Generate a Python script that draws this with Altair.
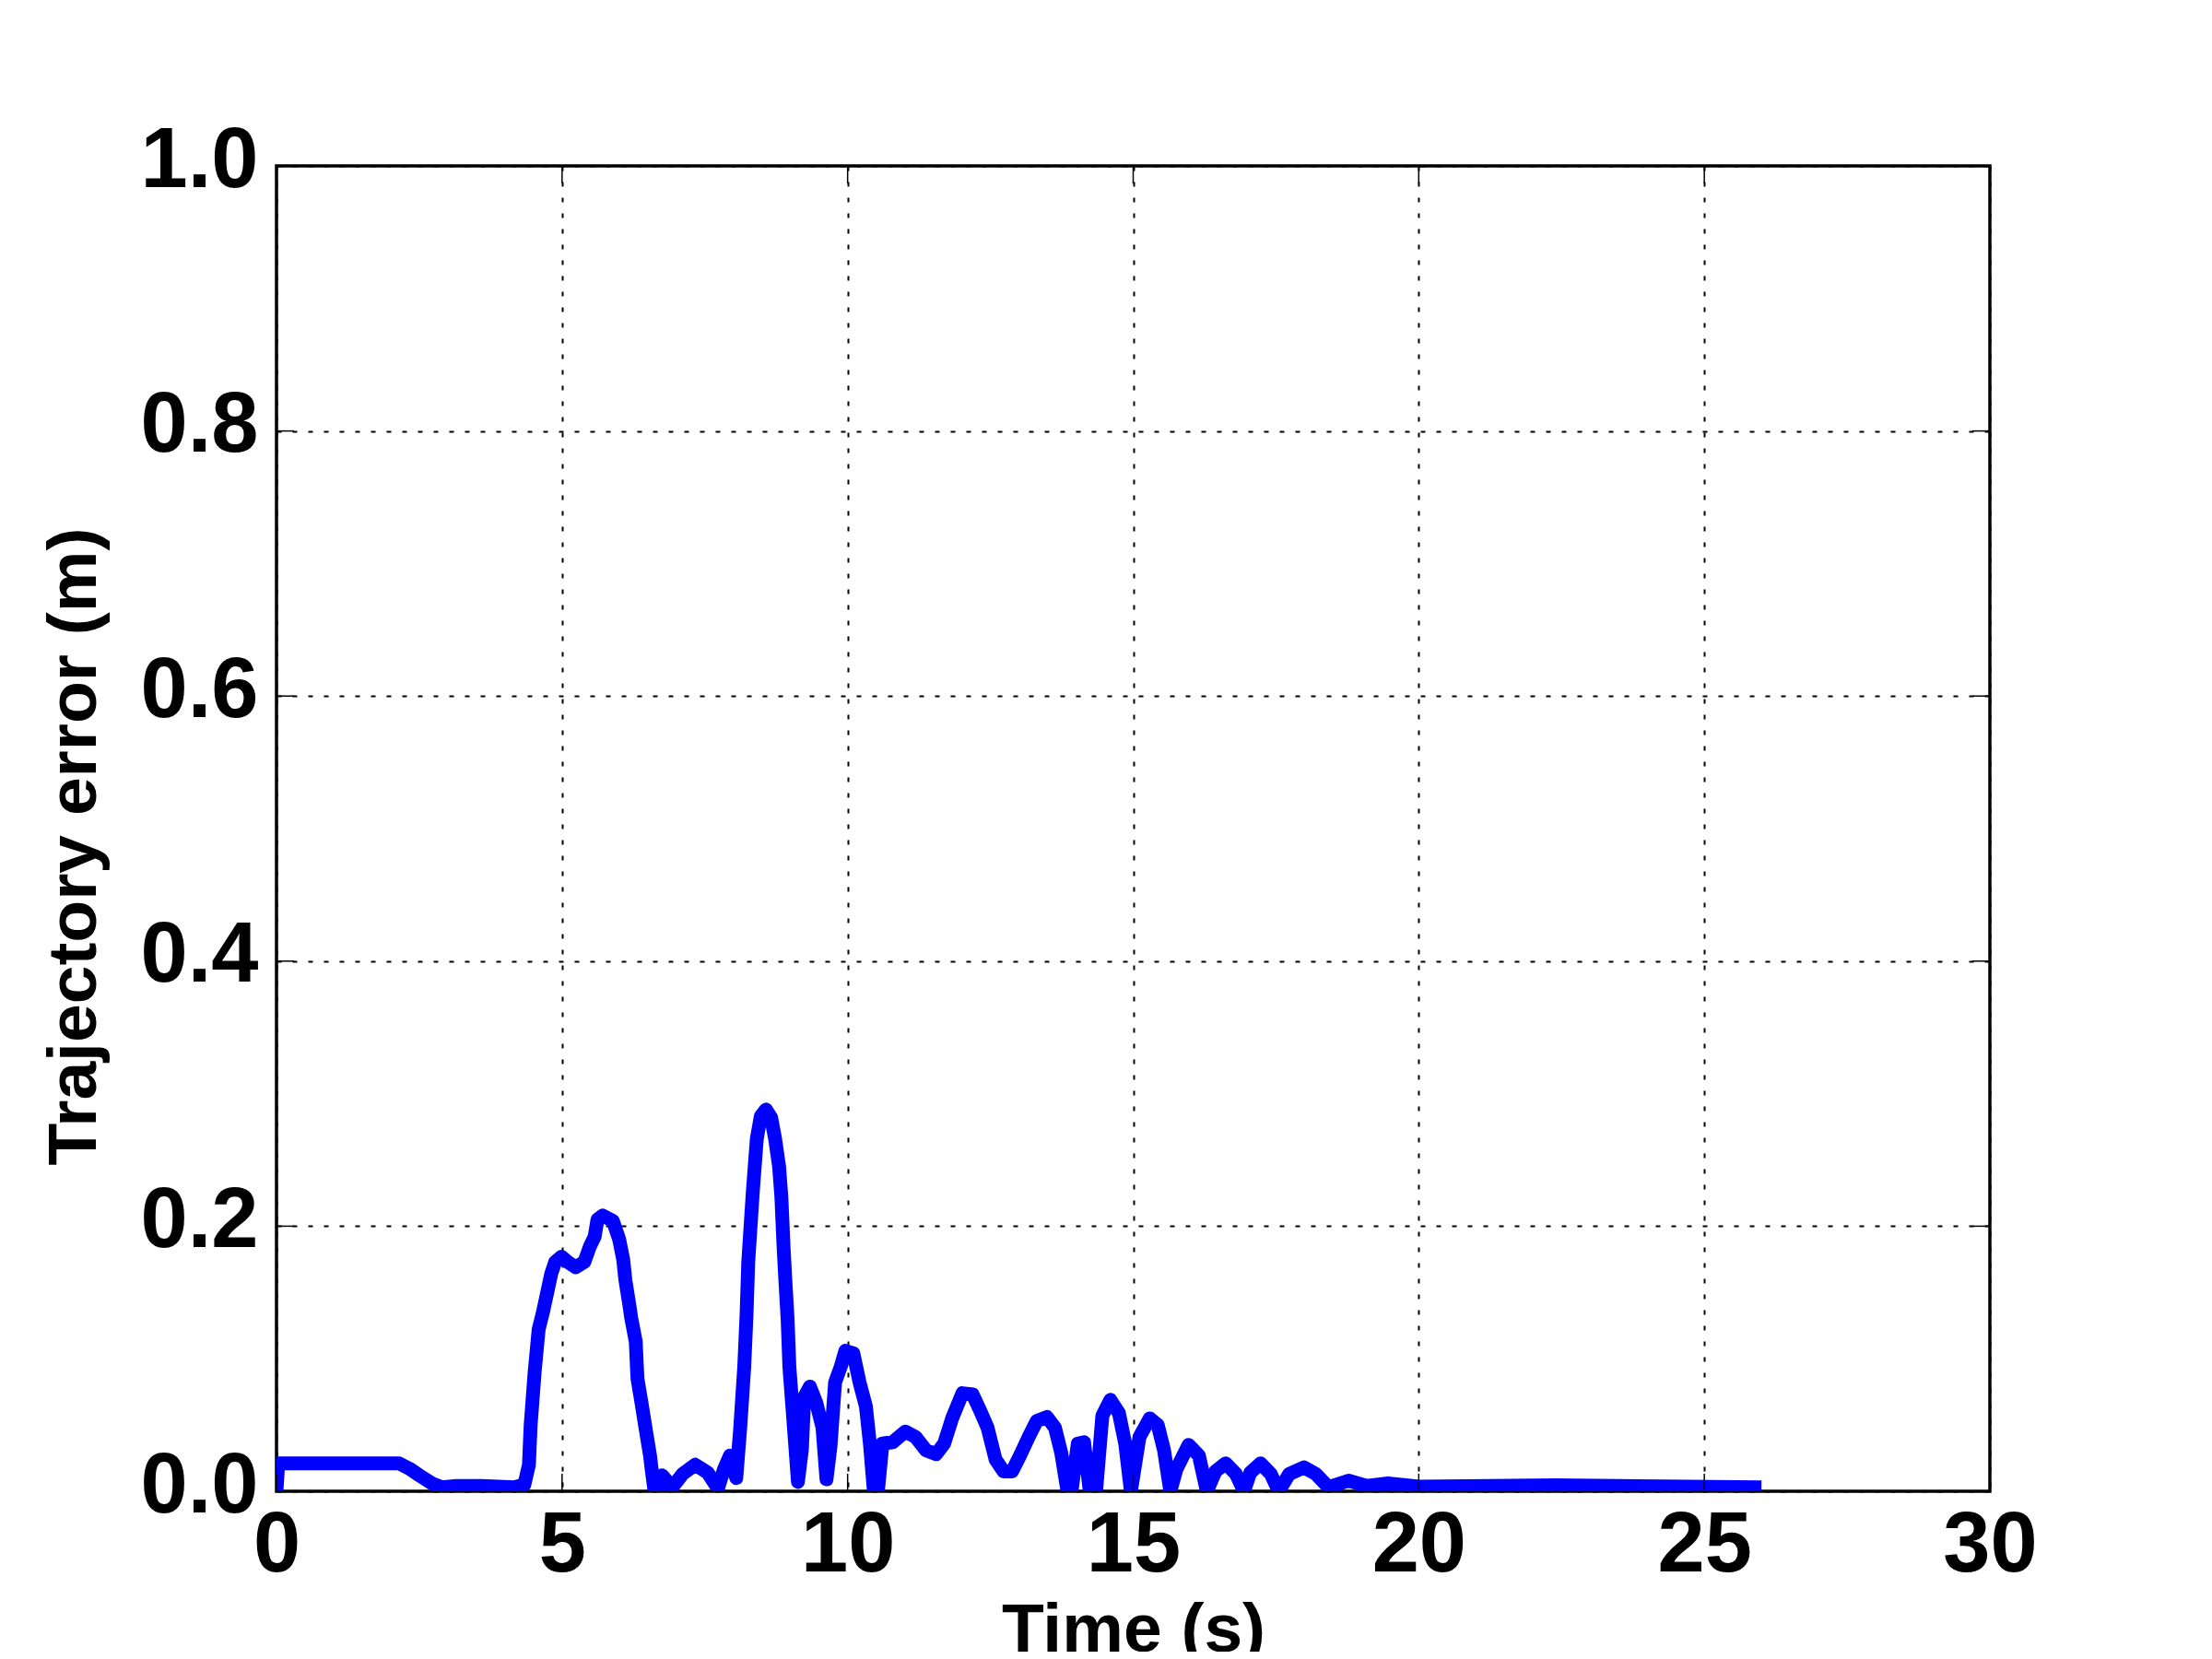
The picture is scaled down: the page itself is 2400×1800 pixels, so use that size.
import altair as alt
import pandas as pd

# Time (s)
time_s = [
    0.00, 0.03, 1.00, 2.00, 2.15, 2.33, 2.50, 2.72, 2.90, 3.15, 3.60, 4.16, 4.34, 4.42,
    4.45, 4.52, 4.59, 4.67, 4.74, 4.81, 4.88, 4.99, 5.10, 5.24, 5.39, 5.49, 5.57, 5.62,
    5.71, 5.89, 6.00, 6.07, 6.11, 6.18, 6.21, 6.29, 6.32, 6.39, 6.46, 6.54, 6.57, 6.62,
    6.68, 6.75, 6.93, 7.11, 7.33, 7.55, 7.73, 7.83, 7.94, 8.05, 8.12, 8.19, 8.23, 8.26,
    8.34, 8.41, 8.48, 8.57, 8.66, 8.73, 8.80, 8.84, 8.88, 8.91, 8.95, 8.98, 9.06, 9.13,
    9.20, 9.24, 9.34, 9.45, 9.56, 9.63, 9.70, 9.78, 9.88, 9.96, 10.10, 10.21, 10.32,
    10.39, 10.46, 10.53, 10.61, 10.79, 11.01, 11.19, 11.37, 11.55, 11.69, 11.83, 12.01,
    12.19, 12.34, 12.45, 12.59, 12.73, 12.88, 13.02, 13.17, 13.31, 13.49, 13.63, 13.74,
    13.85, 13.92, 14.03, 14.14, 14.24, 14.35, 14.46, 14.60, 14.75, 14.86, 14.96, 15.11,
    15.29, 15.43, 15.54, 15.65, 15.76, 15.97, 16.15, 16.29, 16.44, 16.62, 16.80, 16.94,
    17.05, 17.23, 17.41, 17.55, 17.73, 17.99, 18.20, 18.42, 18.77, 19.09, 19.46, 20.00,
    22.40, 26.00,
]
# Trajectory error (m)
error_m = [
    0.000, 0.021, 0.021, 0.021, 0.021, 0.017, 0.012, 0.006, 0.003, 0.004, 0.004, 0.003, 0.005, 0.020,
    0.050, 0.090, 0.122, 0.136, 0.150, 0.164, 0.173, 0.177, 0.173, 0.169, 0.173, 0.185, 0.192, 0.205,
    0.208, 0.204, 0.190, 0.175, 0.159, 0.140, 0.131, 0.113, 0.085, 0.067, 0.048, 0.027, 0.016, 0.000,
    0.000, 0.012, 0.003, 0.013, 0.020, 0.014, 0.002, 0.016, 0.027, 0.010, 0.048, 0.094, 0.133, 0.173,
    0.226, 0.266, 0.283, 0.288, 0.282, 0.266, 0.245, 0.222, 0.183, 0.159, 0.129, 0.094, 0.048, 0.007,
    0.032, 0.071, 0.079, 0.067, 0.048, 0.009, 0.034, 0.082, 0.094, 0.106, 0.104, 0.082, 0.064,
    0.036, 0.000, 0.000, 0.036, 0.037, 0.045, 0.041, 0.031, 0.028, 0.036, 0.055, 0.074,
    0.073, 0.059, 0.048, 0.024, 0.015, 0.015, 0.027, 0.041, 0.053, 0.056, 0.048, 0.029,
    0.000, 0.000, 0.036, 0.037, 0.000, 0.000, 0.057, 0.069, 0.059, 0.036, 0.000, 0.041,
    0.055, 0.050, 0.031, 0.000, 0.017, 0.035, 0.027, 0.000, 0.015, 0.021, 0.013, 0.000,
    0.014, 0.021, 0.013, 0.000, 0.013, 0.018, 0.013, 0.003, 0.008, 0.004, 0.006, 0.0035,
    0.0045, 0.003,
]

x_ticks = [0, 5, 10, 15, 20, 25, 30]
y_ticks = [0.0, 0.2, 0.4, 0.6, 0.8, 1.0]

W, H = 1859, 1438
TL = 19  # inward tick length
FONT = "Liberation Sans"

df = pd.DataFrame({"t": time_s, "e": error_m})
dfx = pd.DataFrame({"t": x_ticks})
dfy = pd.DataFrame({"e": y_ticks})

xscale = alt.Scale(domain=[0, 30], nice=False, zero=False)
yscale = alt.Scale(domain=[0, 1], nice=False, zero=False)

grid_common = dict(
    grid=True, gridColor="black", gridDash=[5, 12], gridWidth=2, gridOpacity=1,
    domain=False, ticks=False, tickSize=0,
    labelFont=FONT, labelFontWeight="bold", labelFontSize=92, labelColor="black",
    labelBaseline="alphabetic", labelOverlap=False, labelFlush=False,
    titleFont=FONT, titleFontWeight="bold", titleFontSize=75, titleColor="black",
    titleBaseline="alphabetic",
)

xaxis = alt.Axis(values=x_ticks, format="d", labelPadding=86, title="Time (s)",
                 titleY=173, **grid_common)
yaxis = alt.Axis(values=y_ticks, format=".1f", labelPadding=20, labelOffset=22,
                 title="Trajectory error (m)", titleAngle=270, titleX=-197, titleY=738,
                 titleAlign="center", **grid_common)

X = alt.X("t:Q", scale=xscale, axis=xaxis)
Y = alt.Y("e:Q", scale=yscale, axis=yaxis)

line = alt.Chart(df).mark_line(
    color="#0000ff", strokeWidth=15, clip=True, strokeJoin="round", strokeCap="butt"
).encode(x=X, y=Y)

tick_style = dict(color="black", strokeWidth=1.5)
left_ticks = alt.Chart(dfy).mark_rule(**tick_style).encode(
    y=Y, x=alt.value(0), x2=alt.value(TL))
right_ticks = alt.Chart(dfy).mark_rule(**tick_style).encode(
    y=Y, x=alt.value(W - TL), x2=alt.value(W))
bottom_ticks = alt.Chart(dfx).mark_rule(**tick_style).encode(
    x=X, y=alt.value(H - TL), y2=alt.value(H))
top_ticks = alt.Chart(dfx).mark_rule(**tick_style).encode(
    x=X, y=alt.value(0), y2=alt.value(TL))

chart = alt.layer(line, left_ticks, right_ticks, bottom_ticks, top_ticks).properties(
    width=W, height=H,
    autosize=alt.AutoSizeParams(type="none"),
    padding={"left": 292, "top": 172, "right": 225, "bottom": 174},
    background="white",
).configure_view(stroke="black", strokeWidth=3.5)

chart.save("out.html", embed_options={"renderer": "svg", "actions": False})
